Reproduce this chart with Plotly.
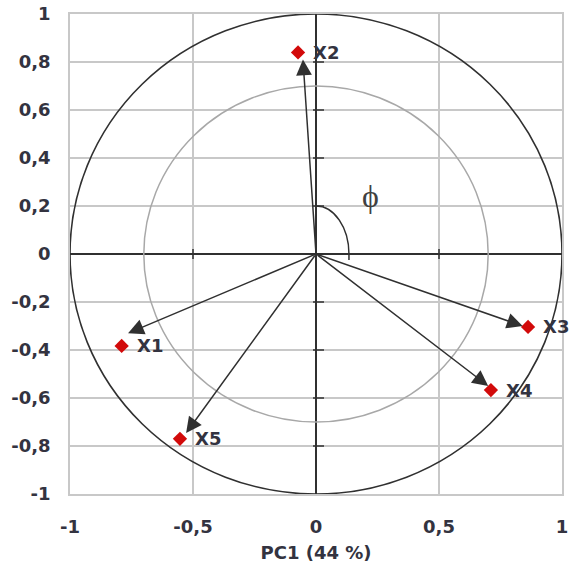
import plotly.graph_objects as go

# ---- data ----
labels = ["X1", "X2", "X3", "X4", "X5"]
pc1 = [-0.79, -0.073, 0.862, 0.711, -0.553]
pc2 = [-0.383, 0.84, -0.304, -0.567, -0.77]
arrow_x = [-0.764, -0.053, 0.84, 0.70, -0.528]
arrow_y = [-0.33, 0.81, -0.30, -0.55, -0.746]

x_ticks = [-1, -0.5, 0, 0.5, 1]
x_ticktext = ["-1", "-0,5", "0", "0,5", "1"]
y_ticks = [-1, -0.8, -0.6, -0.4, -0.2, 0, 0.2, 0.4, 0.6, 0.8, 1]
y_ticktext = ["-1", "-0,8", "-0,6", "-0,4", "-0,2", "0", "0,2", "0,4", "0,6", "0,8", "1"]
axis_marks_y = [-0.8, -0.6, -0.4, -0.2, 0.2, 0.4, 0.6, 0.8]
axis_marks_x = [-0.5, 0.5]

outer_r = 1.0
inner_r = 0.7
arc_rx, arc_ry, arc_end_y = 0.134, 0.2, -0.025
phi_pos = (0.22, 0.24)

TXT = "#333340"
FONT = "DejaVu Sans"

fig = go.Figure()

fig.add_trace(go.Scatter(
    x=pc1, y=pc2, mode="markers",
    marker=dict(symbol="diamond", size=11, color="#d20a0a"),
    hoverinfo="skip", showlegend=False,
))

shapes = [
    dict(type="circle", xref="x", yref="y", x0=-outer_r, x1=outer_r, y0=-outer_r, y1=outer_r,
         line=dict(color="#303030", width=1.6), layer="above"),
    dict(type="circle", xref="x", yref="y", x0=-inner_r, x1=inner_r, y0=-inner_r, y1=inner_r,
         line=dict(color="#a8a8a8", width=1.5), layer="above"),
]
k = 0.5523
shapes.append(dict(
    type="path", xref="x", yref="y",
    path=f"M 0,{arc_ry} C {k*arc_rx},{arc_ry} {arc_rx},{k*arc_ry} {arc_rx},0 L {arc_rx},{arc_end_y}",
    line=dict(color="#303030", width=1.5), layer="above"))
for yv in axis_marks_y:
    shapes.append(dict(type="line", xref="x", yref="y", xsizemode="pixel", xanchor=0,
                       x0=-3, x1=8, y0=yv, y1=yv, line=dict(color="#303030", width=1.5)))
for xv in axis_marks_x:
    shapes.append(dict(type="line", xref="x", yref="y", ysizemode="pixel", yanchor=0,
                       y0=-5, y1=5, x0=xv, x1=xv, line=dict(color="#303030", width=1.5)))

annotations = []
for ax_, ay_ in zip(arrow_x, arrow_y):
    annotations.append(dict(
        x=ax_, y=ay_, ax=0, ay=0, xref="x", yref="y", axref="x", ayref="y",
        text="", showarrow=True, arrowhead=2, arrowsize=2.1, arrowwidth=1.5,
        arrowcolor="#303030", standoff=0, startstandoff=0))
for lab, xv, yv in zip(labels, pc1, pc2):
    annotations.append(dict(
        x=xv, y=yv, xref="x", yref="y", text=lab, showarrow=False,
        xanchor="left", yanchor="middle", xshift=13, yshift=0,
        font=dict(family=FONT, size=18, color=TXT, weight="bold")))
annotations.append(dict(
    x=phi_pos[0], y=phi_pos[1], xref="x", yref="y", text="ϕ", showarrow=False,
    font=dict(family="Liberation Serif", size=32, color="#404040")))

fig.update_layout(
    width=574, height=575,
    margin=dict(l=70, r=12, t=14, b=81),
    paper_bgcolor="white", plot_bgcolor="white",
    shapes=shapes, annotations=annotations,
    xaxis=dict(
        range=[-1, 1], tickvals=x_ticks, ticktext=x_ticktext, automargin=False,
        showgrid=True, gridcolor="#c8c8c8", gridwidth=1.6,
        zeroline=True, zerolinecolor="#303030", zerolinewidth=1.5,
        showline=True, linecolor="#c8c8c8", linewidth=1.6, mirror=True,
        ticks="outside", ticklen=16, tickcolor="rgba(0,0,0,0)",
        tickfont=dict(family=FONT, size=18, color=TXT, weight="bold"),
        title=dict(text="PC1 (44 %)", font=dict(family=FONT, size=18, color=TXT, weight="bold"), standoff=10),
        fixedrange=True,
    ),
    yaxis=dict(
        range=[-1, 1], tickvals=y_ticks, ticktext=y_ticktext, automargin=False,
        showgrid=True, gridcolor="#c8c8c8", gridwidth=1.6,
        zeroline=True, zerolinecolor="#303030", zerolinewidth=1.5,
        showline=True, linecolor="#c8c8c8", linewidth=1.6, mirror=True,
        ticks="outside", ticklen=14, tickcolor="rgba(0,0,0,0)",
        tickfont=dict(family=FONT, size=18, color=TXT, weight="bold"),
        fixedrange=True,
    ),
)

fig.write_html("out.html")
